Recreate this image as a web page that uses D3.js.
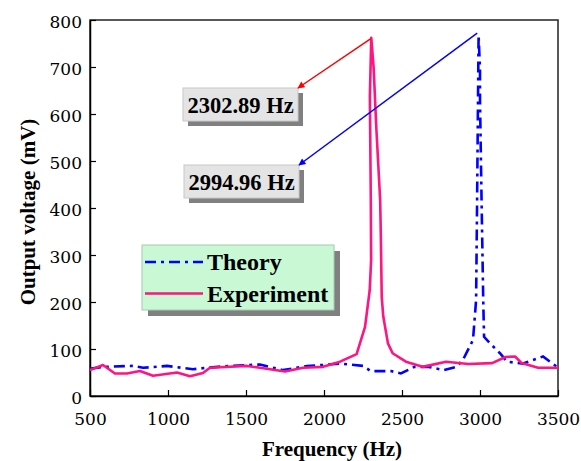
<!DOCTYPE html>
<html>
<head>
<meta charset="utf-8">
<script src="https://cdn.jsdelivr.net/npm/d3@7"></script>
<style>
  body { margin: 0; background: #fff; }
  svg { display: block; }
  text { font-family: "Liberation Serif", "Times New Roman", serif; }
</style>
</head>
<body>
<svg id="chart" width="581" height="461"></svg>
<script>
// values
const theoryFreq = [500, 583, 775, 840, 994, 1160, 1250, 1390, 1590, 1737, 1891, 1994, 2103, 2250, 2300, 2430, 2493, 2580, 2670, 2770, 2850, 2891, 2955, 2975, 2981, 2985, 2991, 3000, 3000, 3010, 3021, 3026, 3064, 3128, 3173, 3276, 3404, 3494]
const theoryVolt = [58, 62, 64, 60, 64, 57, 60, 64, 67, 55, 64, 66, 69, 64, 53, 53, 48, 62, 62, 55, 62, 77, 119, 204, 400, 550, 768, 694, 630, 417, 200, 126, 112, 91, 73, 69, 84, 62]

const expFreq = [500, 583, 660, 737, 820, 904, 1058, 1141, 1224, 1269, 1506, 1590, 1750, 1865, 1994, 2103, 2209, 2263, 2293, 2302, 2300, 2294, 2303, 2318, 2335, 2360, 2364, 2370, 2380, 2410, 2440, 2525, 2632, 2782, 2926, 3078, 3163, 3225, 3267, 3372, 3500]
const expVolt = [55, 66, 48, 48, 53, 43, 50, 42, 49, 60, 64, 60, 52, 60, 62, 73, 89, 147, 225, 289, 417, 637, 762, 700, 573, 417, 347, 211, 169, 112, 91, 73, 62, 73, 68, 70, 83, 84, 70, 60, 60]

const xTicks = [500, 1000, 1500, 2000, 2500, 3000, 3500]
const yTicks = [0, 100, 200, 300, 400, 500, 600, 700, 800]
const seriesNames = ['Theory', 'Experiment']
const peakLabels = ['2302.89 Hz', '2994.96 Hz']

const svg = d3.select('#chart')
const m = { left: 90, top: 20, right: 558, bottom: 396 }
const tickFont = '"DejaVu Serif", serif'

const x = d3.scaleLinear().domain([500, 3500]).range([m.left, m.right])
const y = d3.scaleLinear().domain([0, 800]).range([m.bottom, m.top])

// plot frame
svg.append('rect')
  .attr('x', m.left).attr('y', m.top)
  .attr('width', m.right - m.left).attr('height', m.bottom - m.top)
  .attr('fill', 'none').attr('stroke', '#222').attr('stroke-width', 1.5)

const xAxis = svg.append('g')
  .attr('transform', `translate(0,${m.bottom})`)
  .call(d3.axisBottom(x).tickValues(xTicks).tickFormat(d3.format('d'))
    .tickSizeInner(-6).tickSizeOuter(0).tickPadding(4))
const yAxis = svg.append('g')
  .attr('transform', `translate(${m.left},0)`)
  .call(d3.axisLeft(y).tickValues(yTicks).tickFormat(d3.format('d'))
    .tickSizeInner(-6).tickSizeOuter(0).tickPadding(8))

;[xAxis, yAxis].forEach((g) => {
  g.attr('font-family', tickFont).attr('font-size', 17)
  g.select('.domain').attr('stroke', '#000').attr('stroke-width', 1.5)
  g.selectAll('.tick line').attr('stroke', '#000').attr('stroke-width', 1.2)
  g.selectAll('.tick text')
    .attr('fill', '#000')
    .style('font-family', tickFont)
    .style('font-size', '17px')
})
xAxis.selectAll('.tick text').attr('dy', '1.45em')
yAxis.selectAll('.tick text').attr('dy', '0.45em')

// axis titles
svg.append('text')
  .attr('x', 332).attr('y', 456)
  .attr('text-anchor', 'middle')
  .attr('font-weight', 'bold').attr('font-size', 21)
  .text('Frequency (Hz)')
svg.append('text')
  .attr('transform', `translate(35,${(m.top + m.bottom) / 2 + 4}) rotate(-90)`)
  .attr('text-anchor', 'middle')
  .attr('font-weight', 'bold').attr('font-size', 21)
  .text('Output voltage (mV)')

const line = d3.line().x((d) => x(d[0])).y((d) => y(d[1]))
const theory = d3.zip(theoryFreq, theoryVolt)
const experiment = d3.zip(expFreq, expVolt)

svg.append('path')
  .datum(theory)
  .attr('d', line)
  .attr('fill', 'none').attr('stroke', '#0000ff').attr('stroke-width', 2.6)
  .attr('stroke-dasharray', '11,5,3,5')

svg.append('path')
  .datum(experiment)
  .attr('d', line)
  .attr('fill', 'none').attr('stroke', '#ff1480').attr('stroke-width', 2.6)
  .attr('stroke-linejoin', 'round')

// arrow heads
const defs = svg.append('defs')
;[['arrRed', '#ff0000'], ['arrBlue', '#0000ff']].forEach(([id, c]) => {
  defs.append('marker')
    .attr('id', id).attr('viewBox', '0 0 10 10')
    .attr('refX', 9).attr('refY', 5)
    .attr('markerWidth', 9).attr('markerHeight', 7)
    .attr('markerUnits', 'userSpaceOnUse')
    .attr('orient', 'auto')
    .append('path').attr('d', 'M0,0 L10,5 L0,10 z').attr('fill', c)
})

// labelled peaks: arrow from the peak to the label box corner
const peaks = [
  { f: 2298, v: 760, color: '#ff0000', marker: 'arrRed', box: [183, 88] },
  { f: 2982, v: 772, color: '#0000ff', marker: 'arrBlue', box: [184, 165] }
]
peaks.forEach((p, i) => {
  const bw = 115, bh = 33
  const [bx, by] = p.box
  svg.append('rect')
    .attr('x', bx + 5).attr('y', by + 5).attr('width', bw).attr('height', bh)
    .attr('fill', '#808080')
  svg.append('rect')
    .attr('x', bx).attr('y', by).attr('width', bw).attr('height', bh)
    .attr('fill', '#e4e4e4').attr('stroke', '#c8c8c8').attr('stroke-width', 1)
  svg.append('text')
    .attr('x', bx + bw / 2).attr('y', by + bh / 2 + 8)
    .attr('text-anchor', 'middle')
    .attr('font-weight', 'bold').attr('font-size', 22.5)
    .text(peakLabels[i])
  svg.append('line')
    .attr('x1', x(p.f)).attr('y1', y(p.v))
    .attr('x2', bx + bw).attr('y2', by)
    .attr('stroke', p.color).attr('stroke-width', 1.5)
    .attr('marker-end', `url(#${p.marker})`)
})

// legend
const lg = svg.append('g').attr('transform', 'translate(142,245)')
lg.append('rect').attr('x', 6).attr('y', 6).attr('width', 192).attr('height', 65).attr('fill', '#808080')
lg.append('rect').attr('width', 192).attr('height', 65)
  .attr('fill', '#c8f8d4').attr('stroke', '#a8c8b0').attr('stroke-width', 1)
seriesNames.forEach((name, i) => {
  const ly = 17 + i * 31.5
  lg.append('line')
    .attr('x1', 3).attr('x2', 61).attr('y1', ly).attr('y2', ly)
    .attr('stroke', i === 0 ? '#0000ff' : '#ff1480').attr('stroke-width', 2.6)
    .attr('stroke-dasharray', i === 0 ? '11,5,3,5' : null)
  lg.append('text')
    .attr('x', 65).attr('y', ly + 8)
    .attr('font-weight', 'bold').attr('font-size', 24)
    .text(name)
})
</script>
</body>
</html>
